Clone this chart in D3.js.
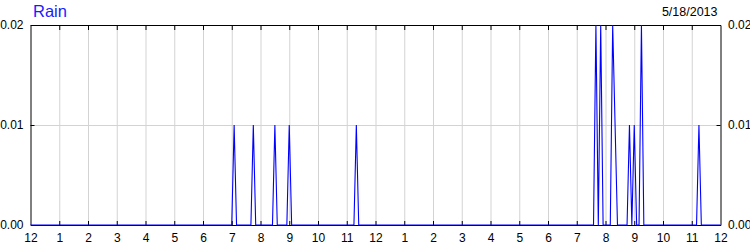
<!DOCTYPE html>
<html>
<head>
<meta charset="utf-8">
<script src="https://cdn.jsdelivr.net/npm/d3@7"></script>
<style>
	body { margin: 0; background: #fff; }
	svg { display: block; font-family: "Liberation Sans", Arial, sans-serif; }
	.axis text { font-size: 12px; fill: #000; }
	.axis path, .axis line { stroke: #000; }
	.grid line { stroke: #d3d3d3; }
	.grid path { display: none; }
</style>
</head>
<body>
<div id="chart"></div>
<script>

// rain readings for the day (time of reading, inches)
var readingTimes = [
	"00:00",
	"07:00", "07:05", "07:10",
	"07:40", "07:45", "07:50",
	"08:25", "08:30", "08:35",
	"08:55", "09:00", "09:05",
	"11:15", "11:20", "11:25",
	"19:35", "19:40", "19:45", "19:50", "19:55",
	"20:10", "20:15", "20:25",
	"20:45", "20:50", "20:55", "21:00", "21:05",
	"21:10", "21:15", "21:20",
	"23:10", "23:15", "23:20",
	"24:00"
];
var rainValues = [
	0,
	0, 0.01, 0,
	0, 0.01, 0,
	0, 0.01, 0,
	0, 0.01, 0,
	0, 0.01, 0,
	0, 0.02, 0, 0.02, 0,
	0, 0.02, 0,
	0, 0.01, 0, 0.01, 0,
	0, 0.02, 0,
	0, 0.01, 0,
	0
];
var hourTicks = d3.range(0, 25);
var hourLabels = ["12", "1", "2", "3", "4", "5", "6", "7", "8", "9", "10", "11",
	"12", "1", "2", "3", "4", "5", "6", "7", "8", "9", "10", "11", "12"];
var rainTicks = [0, 0.01, 0.02];
var titleText = "Rain";
var dateText = "5/18/2013";

// set chart dimensions
var margin = { top: 25, right: 29.5, bottom: 25, left: 30.5 };
var width = 690;
var height = 200;

var data = readingTimes.map(function(t, i) {
	var p = t.split(":");
	return { hour: +p[0] + p[1] / 60, rain: rainValues[i] };
});

// set scales and axes
var x = d3.scaleLinear().domain([0, 24]).range([0, width]);
var y = d3.scaleLinear().domain([0, 0.02]).range([height, 0]);

var svg = d3.select("#chart")
  .append("svg")
	.attr("width", 750)
	.attr("height", 250);

var chart = svg.append("g")
	.attr("transform", "translate(" + margin.left + "," + margin.top + ")");

// grid lines
chart.append("g")
	.attr("class", "grid")
	.attr("transform", "translate(0," + height + ")")
	.call(d3.axisBottom(x).tickValues(hourTicks.slice(1, -1)).tickSize(-height).tickFormat(""));

chart.append("g")
	.attr("class", "grid")
	.call(d3.axisLeft(y).tickValues([0.01]).tickSize(-width).tickFormat(""));

// bottom axis with hour labels
chart.append("g")
	.attr("class", "x axis")
	.attr("transform", "translate(0," + height + ")")
	.call(d3.axisBottom(x)
		.tickValues(hourTicks)
		.tickFormat(function(d, i) { return hourLabels[i]; })
		.tickSizeInner(-4)
		.tickSizeOuter(0)
		.tickPadding(8.5));

// top axis, ticks only
chart.append("g")
	.attr("class", "x axis")
	.call(d3.axisTop(x).tickValues(hourTicks).tickFormat("").tickSizeInner(-5).tickSizeOuter(0));

// left and right axes
chart.append("g")
	.attr("class", "y axis")
	.call(d3.axisLeft(y).tickValues(rainTicks).tickFormat(d3.format(".2f"))
		.tickSizeInner(-4).tickSizeOuter(0).tickPadding(7));

chart.append("g")
	.attr("class", "y axis")
	.attr("transform", "translate(" + width + ",0)")
	.call(d3.axisRight(y).tickValues(rainTicks).tickFormat(d3.format(".2f"))
		.tickSizeInner(-4).tickSizeOuter(0).tickPadding(7.5));

chart.selectAll(".axis .tick line").filter(function(d) { return d === 0 || d === 24; }).remove();

// the rain line
var line = d3.line()
	.x(function(d) { return x(d.hour); })
	.y(function(d) { return y(d.rain); });

chart.append("path")
	.datum(data)
	.attr("d", line)
	.style("fill", "none")
	.style("stroke", "#0000ff")
	.style("stroke-width", 1.1);

// title and date
svg.append("text")
	.attr("x", 33)
	.attr("y", 17)
	.style("font-size", "16.5px")
	.style("fill", "#1a1aff")
	.text(titleText);

svg.append("text")
	.attr("x", 717.5)
	.attr("y", 16)
	.attr("text-anchor", "end")
	.style("font-size", "12.5px")
	.style("fill", "#000")
	.text(dateText);

</script>
</body>
</html>
